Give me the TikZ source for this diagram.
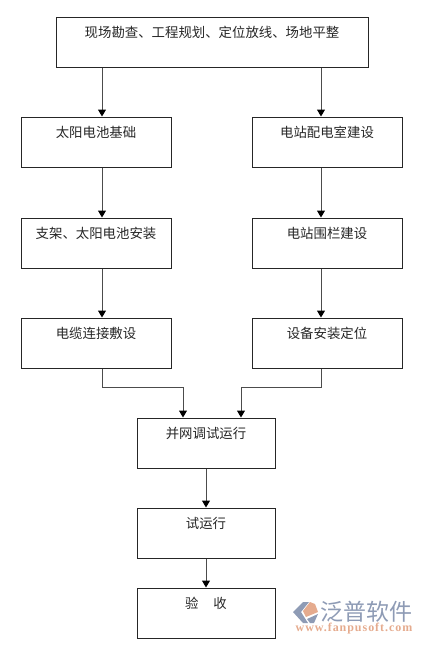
\documentclass[tikz,border=0pt]{standalone}
\usepackage{fontspec}
\setmainfont{Liberation Serif}
\newfontfamily\cjk{Noto Sans CJK SC}
\usetikzlibrary{arrows.meta}
\definecolor{logoblue}{HTML}{8E9BB5}
\definecolor{logosalmon}{HTML}{E5AB8E}
\tikzset{
  x=1pt,y=-1pt,
  box/.style={draw=black!85,line width=1pt,inner sep=0pt,font=\cjk\fontsize{13.4}{14}\selectfont,text=black!85,
    text height=20pt,text depth=30pt,align=center},
  wide/.style={box,minimum width=150pt},
  mid/.style={box,minimum width=138pt},
  top/.style={box,minimum width=312pt},
  flow/.style={draw=black!70,line width=1pt,-{Triangle[length=7pt,width=8pt,black]}},
}
\begin{document}
\begin{tikzpicture}
\useasboundingbox (0,0) rectangle (423,645);
\coordinate (cl) at (102,0);
\coordinate (cr) at (321,0);
\coordinate (cm) at (206,0);
\coordinate (ml) at (183,0);
\coordinate (mr) at (241,0);
\coordinate (ylevel) at (0,387);
\node[top] (a) at (212,42) {现场勘查、工程规划、定位放线、场地平整};
\node[wide] (l1) at (96,142) {太阳电池基础};
\node[wide] (l2) at (96,243) {支架、太阳电池安装};
\node[wide] (l3) at (96,343) {电缆连接敷设};
\node[wide] (r1) at (327,142) {电站配电室建设};
\node[wide] (r2) at (327,243) {电站围栏建设};
\node[wide] (r3) at (327,343) {设备安装定位};
\node[mid] (m1) at (206,443) {并网调试运行};
\node[mid] (m2) at (206,533) {试运行};
\node[mid] (m3) at (206,613) {验\hspace{1.1em}收};
\draw[flow] (a.south -| cl) -- (l1.north -| cl);
\draw[flow] (l1.south -| cl) -- (l2.north -| cl);
\draw[flow] (l2.south -| cl) -- (l3.north -| cl);
\draw[flow] (a.south -| cr) -- (r1.north -| cr);
\draw[flow] (r1.south -| cr) -- (r2.north -| cr);
\draw[flow] (r2.south -| cr) -- (r3.north -| cr);
\draw[flow] (l3.south -| cl) -- (ylevel -| cl) -- (ylevel -| ml) -- (m1.north -| ml);
\draw[flow] (r3.south -| cr) -- (ylevel -| cr) -- (ylevel -| mr) -- (m1.north -| mr);
\draw[flow] (m1) -- (m2);
\draw[flow] (m2) -- (m3);
% logo
\fill[logoblue] (303,602) -- (293,612) -- (303,623) -- (308,623) -- (301,612) -- (309,602) -- cycle;
\fill[logosalmon] (310,602) -- (303,611) -- (306,617) -- (318,612) -- (315,604) -- cycle;
\fill[logoblue] (318,614) -- (307,619) -- (310,623) -- (314,623) -- cycle;
\node[inner sep=0pt,text=logoblue,font=\cjk\fontsize{23}{23}\selectfont] (logo) at (366.5,612) {泛普软件};
\node[inner sep=0pt,text=logosalmon,font=\bfseries\fontsize{12}{12}\selectfont\addfontfeature{LetterSpace=8}] (url) at (354,629) {www.fanpusoft.com};
\end{tikzpicture}
\end{document}
